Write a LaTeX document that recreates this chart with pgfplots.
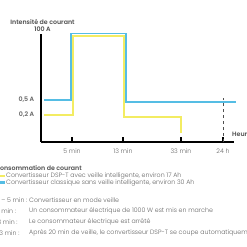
\documentclass[border=0pt]{standalone}
\usepackage{pgfplots}
\pgfplotsset{compat=1.18}
\usepackage{fontspec}
\setmainfont{Poppins}[UprightFont=* Light, BoldFont=* SemiBold]
\definecolor{cblue}{HTML}{55BDE4}
\definecolor{cyel}{HTML}{F3EC62}
\definecolor{tgray}{HTML}{666666}
\definecolor{tdark}{HTML}{505050}
\begin{document}
\begin{tikzpicture}
\path[use as bounding box] (0,0) rectangle (247bp,247bp);
\begin{axis}[
  at={(41bp,105bp)}, anchor=south west,
  scale only axis, width=193bp, height=108bp,
  xmin=41, xmax=234, ymin=0, ymax=108,
  clip=false,
  axis x line=bottom, axis y line=left,
  axis line style={line width=1.4bp, black, -},
  xtick={72,123,181,223},
  xticklabels={5 min,13 min,33 min,24 h},
  xtick align=inside,
  major tick length=4.5bp,
  xtick style={line width=1.4bp, black},
  ytick={27,42},
  yticklabels={{0,2 A},{0,5 A}},
  ytick style={draw=none},
  tick label style={font=\fontsize{6.3}{7}\selectfont, text=tgray},
  yticklabel style={font=\fontsize{6.3}{7}\selectfont\bfseries, text=tgray, xshift=-1bp},
  xticklabel style={yshift=-3bp},
  legend style={at={(axis description cs:-0.229,-0.285)}, anchor=north west,
    draw=none, fill=none, font=\fontsize{6.3}{7}\selectfont, text=tgray,
    inner sep=0pt, row sep=0pt,
    nodes={inner sep=0pt, text height=4.8bp, text depth=1.6bp},
    /tikz/every even column/.append style={column sep=0pt}},
  legend cell align=left,
  legend image code/.code={\draw[#1, line width=2.2bp] (-1bp,0) -- (6bp,0);},
]
\addplot[cyel, line width=1.5bp, forget plot] coordinates {(44,27) (73,27) (73,106) (124,106) (124,25) (181,25) (181,9)};
\addplot[cblue, line width=1.5bp, forget plot] coordinates {(44,42) (71,42) (71,108.5) (126,108.5) (126,40) (236,40)};
\addplot[cyel, line width=1.5bp, forget plot] coordinates {(73,60) (73,106) (124,106) (124,60)};
\addplot[tdark, dashed, line width=0.8bp, forget plot] coordinates {(223,0) (223,44)};
\addlegendimage{cyel}
\addlegendentry{Convertisseur DSP-T avec veille intelligente, environ 17 Ah}
\addlegendimage{cblue}
\addlegendentry{Convertisseur classique sans veille intelligente, environ 30 Ah}
\end{axis}
\node[font=\fontsize{6.3}{6.8}\selectfont\bfseries, text=tdark, align=center, inner sep=0pt] at (42.5bp,{247bp-25.5bp}) {Intensité de courant\\100 A};
\node[font=\fontsize{6.3}{7}\selectfont\bfseries, text=tdark, anchor=west, inner sep=0pt] at (232bp,{247bp-134bp}) {Heures};
\node[font=\fontsize{6.3}{7}\selectfont\bfseries, text=tdark, anchor=west, inner sep=0pt] at (-5bp,{247bp-168bp}) {Consommation de courant};
\begin{scope}[every node/.style={font=\fontsize{6.3}{7}\selectfont, text=tgray, anchor=west, inner sep=0pt}]
\node at (-4.5bp,{247bp-200bp}) {0 – 5 min :};
\node at (29bp,{247bp-200bp}) {Convertisseur en mode veille};
\node at (-4.5bp,{247bp-211bp}) {5 min :};
\node at (29bp,{247bp-211bp}) {Un consommateur électrique de 1000 W est mis en marche};
\node at (-4.5bp,{247bp-222bp}) {13 min :};
\node at (29bp,{247bp-222bp}) {Le consommateur électrique est arrêté};
\node at (-4.5bp,{247bp-233bp}) {33 min :};
\node at (29bp,{247bp-233bp}) {Après 20 min de veille, le convertisseur DSP-T se coupe automatiquement};
\end{scope}
\end{tikzpicture}
\end{document}
